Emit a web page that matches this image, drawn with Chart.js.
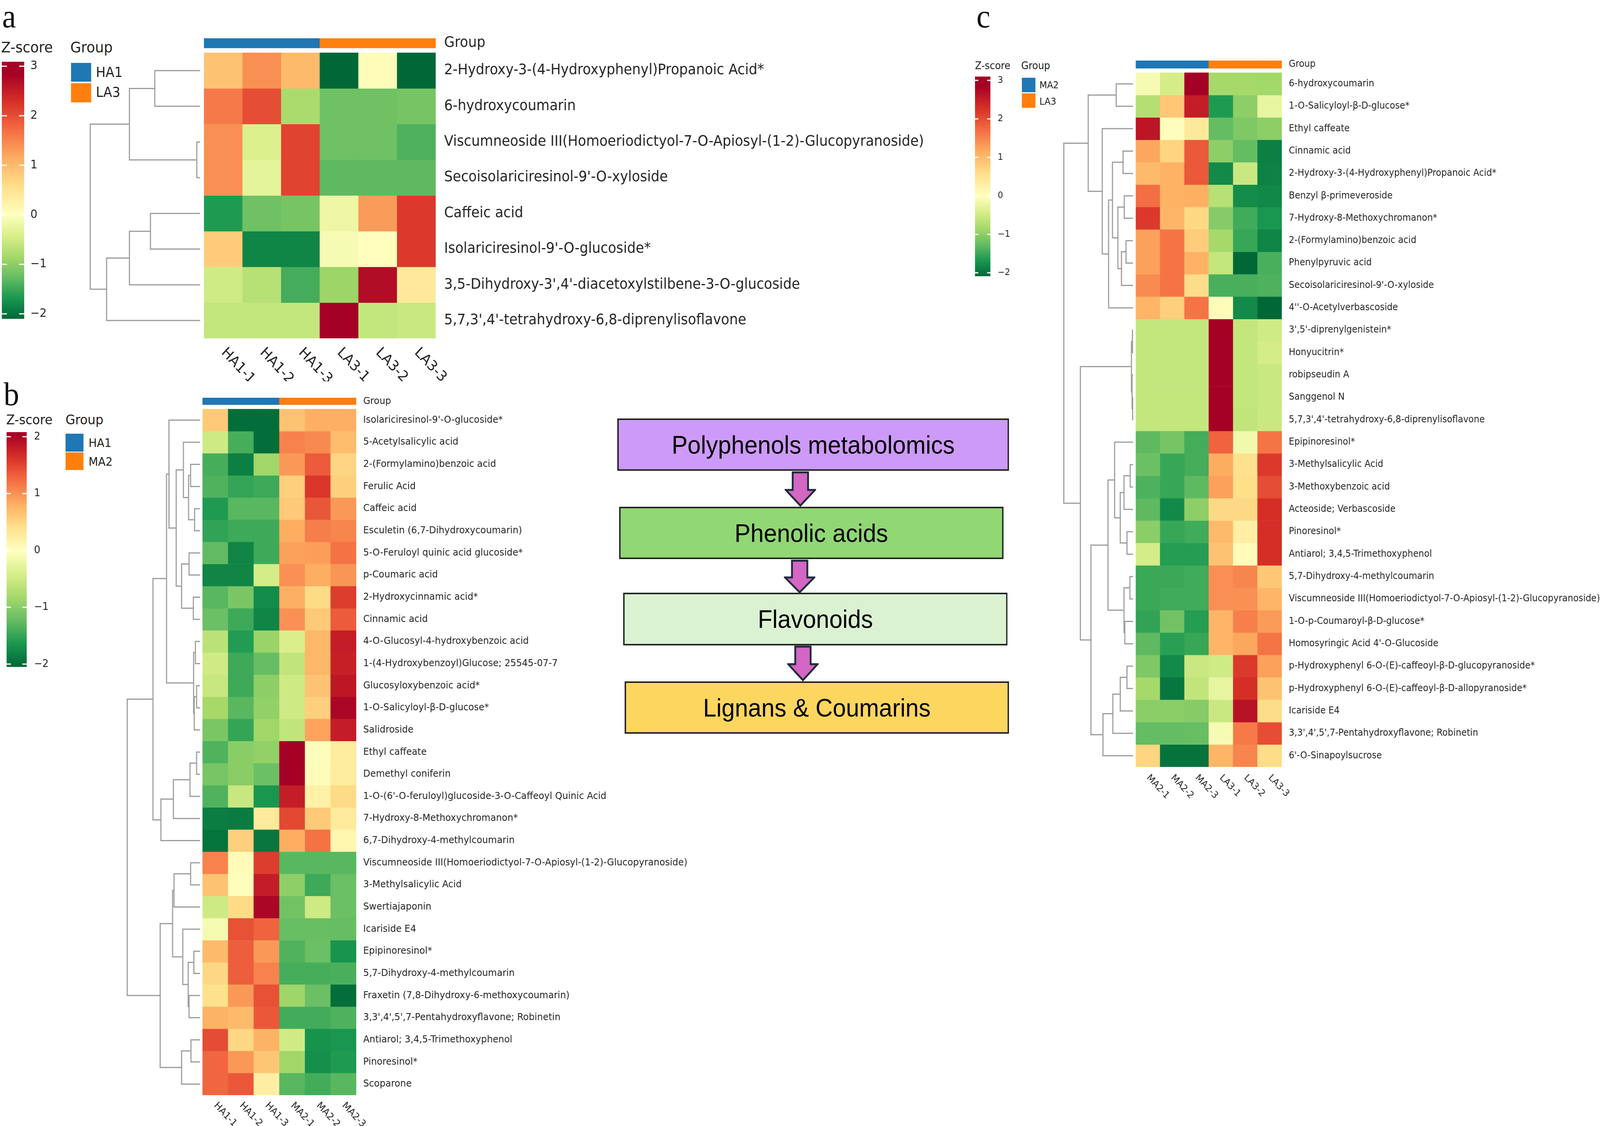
<!DOCTYPE html>
<html>
<head>
<meta charset="utf-8">
<script src="https://cdn.jsdelivr.net/npm/chart.js@4.4.1/dist/chart.umd.min.js"></script>
<style>
  html, body { margin: 0; padding: 0; width: 100%; height: 100%; overflow: hidden; background: #fff; }
  #root { position: absolute; left: 0; top: 0; width: 4370px; height: 2882px; background: #fff; transform-origin: 0 0; overflow: hidden; }
  .box { position: absolute; }
  .t { position: absolute; font-family: 'DejaVu Sans', sans-serif; line-height: 1; white-space: nowrap; color: #222; }
  .letter { position: absolute; font-family: 'Liberation Serif', 'DejaVu Serif', serif; font-size: 85px; line-height: 85px; color: #111; }
  .sw { position: absolute; }
  .flow { position: absolute; box-sizing: border-box; border: 4px solid #262626; display: flex; align-items: center; justify-content: center;
          font-family: 'Liberation Sans', Arial, sans-serif; font-size: 65px; color: #000; }
  .arrow { position: absolute; }
</style>
</head>
<body>
<div id="root">

<div class="letter" style="left:6px; top:-1px;">a</div>
<div class="letter" style="left:10px; top:966px;">b</div>
<div class="letter" style="left:2667px; top:-1px;">c</div>

<!-- legend a -->
<div class="t" style="left:3px; top:102px; font-size:38px;">Z-score</div>
<div class="t" style="left:192px; top:102px; font-size:38px;">Group</div>
<div class="sw" style="left:194px; top:161px; width:55px; height:48px; background:#1f77b4;"></div>
<div class="sw" style="left:194px; top:213px; width:55px; height:49px; background:#ff7f0e;"></div>
<div class="t" style="left:262px; top:168px; font-size:35px;">HA1</div>
<div class="t" style="left:262px; top:219px; font-size:35px;">LA3</div>

<!-- legend b -->
<div class="t" style="left:17px; top:1057px; font-size:34px;">Z-score</div>
<div class="t" style="left:179px; top:1057px; font-size:34px;">Group</div>
<div class="sw" style="left:179px; top:1110px; width:49px; height:46px; background:#1f77b4;"></div>
<div class="sw" style="left:179px; top:1158px; width:49px; height:45px; background:#ff7f0e;"></div>
<div class="t" style="left:242px; top:1119px; font-size:30px;">HA1</div>
<div class="t" style="left:242px; top:1167px; font-size:30px;">MA2</div>

<!-- legend c -->
<div class="t" style="left:2663px; top:155px; font-size:26px;">Z-score</div>
<div class="t" style="left:2789px; top:155px; font-size:26px;">Group</div>
<div class="sw" style="left:2791px; top:199px; width:37px; height:37px; background:#1f77b4;"></div>
<div class="sw" style="left:2791px; top:239px; width:37px; height:37px; background:#ff7f0e;"></div>
<div class="t" style="left:2839px; top:206px; font-size:24px;">MA2</div>
<div class="t" style="left:2839px; top:248px; font-size:24px;">LA3</div>

<!-- colour bars -->
<div class="box" style="left:5px; top:128px; width:131px; height:718px;"><canvas id="barA"></canvas></div>
<div class="box" style="left:18px; top:1076px; width:125px; height:661px;"><canvas id="barB"></canvas></div>
<div class="box" style="left:2663px; top:166px; width:102px; height:571px;"><canvas id="barC"></canvas></div>

<!-- dendrograms -->
<div class="box" style="left:245px; top:58px; width:303px; height:918px;"><canvas id="treeA"></canvas></div>
<div class="box" style="left:346px; top:978px; width:202px; height:1904px;"><canvas id="treeB"></canvas></div>
<div class="box" style="left:2904px; top:115px; width:192px; height:1948px;"><canvas id="treeC"></canvas></div>

<!-- heatmaps -->
<div class="box" style="left:557px; top:58px; width:2040px; height:918px;"><canvas id="heatA"></canvas></div>
<div class="box" style="left:553px; top:978px; width:1400px; height:1904px;"><canvas id="heatB"></canvas></div>
<div class="box" style="left:3102px; top:115px; width:1268px; height:1948px;"><canvas id="heatC"></canvas></div>

<!-- flow chart -->
<div class="flow" style="left:1686px; top:1071px; width:1070px; height:134px; background:#cd9af9;">Polyphenols metabolomics</div>
<div class="flow" style="left:1691px; top:1297px; width:1050px; height:134px; background:#91d774;">Phenolic acids</div>
<div class="flow" style="left:1702px; top:1517px; width:1050px; height:135px; background:#daf2d2;">Flavonoids</div>
<div class="flow" style="left:1706px; top:1744px; width:1050px; height:134px; background:#fdd65f;">Lignans &amp; Coumarins</div>
<svg class="arrow" style="left:2143px; top:1206px;" width="86" height="91"><polygon points="22,3 64,3 64,48 83,48 43,88 3,48 22,48" fill="#d466c4" stroke="#1e2b3c" stroke-width="5" stroke-linejoin="miter"/></svg>
<svg class="arrow" style="left:2141px; top:1432px;" width="86" height="87"><polygon points="22,3 64,3 64,46 83,46 43,84 3,46 22,46" fill="#d466c4" stroke="#1e2b3c" stroke-width="5" stroke-linejoin="miter"/></svg>
<svg class="arrow" style="left:2150px; top:1652px;" width="86" height="92"><polygon points="22,3 64,3 64,48 83,48 43,89 3,48 22,48" fill="#d466c4" stroke="#1e2b3c" stroke-width="5" stroke-linejoin="miter"/></svg>

</div>

<script>
// ---------- panel a : HA1 vs LA3 ----------
const aCols = ['HA1-1', 'HA1-2', 'HA1-3', 'LA3-1', 'LA3-2', 'LA3-3'];
const aGroups = ['HA1', 'HA1', 'HA1', 'LA3', 'LA3', 'LA3'];
const aLegend = ['HA1', 'LA3'];
const aRows = [
  '2-Hydroxy-3-(4-Hydroxyphenyl)Propanoic Acid*',
  '6-hydroxycoumarin',
  'Viscumneoside III(Homoeriodictyol-7-O-Apiosyl-(1-2)-Glucopyranoside)',
  'Secoisolariciresinol-9\'-O-xyloside',
  'Caffeic acid',
  'Isolariciresinol-9\'-O-glucoside*',
  '3,5-Dihydroxy-3\',4\'-diacetoxylstilbene-3-O-glucoside',
  '5,7,3\',4\'-tetrahydroxy-6,8-diprenylisoflavone'
];
const aValues = [
  [0.9, 1.4, 1.0, -2.1, 0.05, -2.1],
  [1.6, 2.0, -0.8, -1.2, -1.2, -1.15],
  [1.4, -0.4, 2.1, -1.2, -1.2, -1.4],
  [1.4, -0.3, 2.1, -1.3, -1.3, -1.3],
  [-1.65, -1.2, -1.15, -0.2, 1.3, 2.2],
  [0.8, -1.85, -1.85, -0.1, 0.02, 2.2],
  [-0.5, -0.7, -1.45, -0.9, 2.7, 0.4],
  [-0.6, -0.6, -0.6, 3.0, -0.6, -0.55]
];
// [left, right, height]; leaves are row indexes
const aTree = [[[0, 1, 125], [2, 3, 9], 195], [[[4, 5, 137], 6, 195], 7, 258], 303];
const aTicks = [3, 2, 1, 0, -1, -2];

// ---------- panel b : HA1 vs MA2 ----------
const bCols = ['HA1-1', 'HA1-2', 'HA1-3', 'MA2-1', 'MA2-2', 'MA2-3'];
const bGroups = ['HA1', 'HA1', 'HA1', 'MA2', 'MA2', 'MA2'];
const bLegend = ['HA1', 'MA2'];
const bRows = [
  'Isolariciresinol-9\'-O-glucoside*',
  '5-Acetylsalicylic acid',
  '2-(Formylamino)benzoic acid',
  'Ferulic Acid',
  'Caffeic acid',
  'Esculetin (6,7-Dihydroxycoumarin)',
  '5-O-Feruloyl quinic acid glucoside*',
  'p-Coumaric acid',
  '2-Hydroxycinnamic acid*',
  'Cinnamic acid',
  '4-O-Glucosyl-4-hydroxybenzoic acid',
  '1-(4-Hydroxybenzoyl)Glucose; 25545-07-7',
  'Glucosyloxybenzoic acid*',
  '1-O-Salicyloyl-β-D-glucose*',
  'Salidroside',
  'Ethyl caffeate',
  'Demethyl coniferin',
  '1-O-(6\'-O-feruloyl)glucoside-3-O-Caffeoyl Quinic Acid',
  '7-Hydroxy-8-Methoxychromanon*',
  '6,7-Dihydroxy-4-methylcoumarin',
  'Viscumneoside III(Homoeriodictyol-7-O-Apiosyl-(1-2)-Glucopyranoside)',
  '3-Methylsalicylic Acid',
  'Swertiajaponin',
  'Icariside E4',
  'Epipinoresinol*',
  '5,7-Dihydroxy-4-methylcoumarin',
  'Fraxetin (7,8-Dihydroxy-6-methoxycoumarin)',
  '3,3\',4\',5\',7-Pentahydroxyflavone; Robinetin',
  'Antiarol; 3,4,5-Trimethoxyphenol',
  'Pinoresinol*',
  'Scoparone'
];
const bValues = [
  [0.6, -2.0, -2.0, 0.65, 0.8, 0.8],
  [-0.5, -1.4, -2.0, 1.1, 1.05, 0.7],
  [-1.4, -1.85, -0.85, 0.95, 1.35, 0.5],
  [-1.35, -1.5, -1.45, 0.55, 1.6, 0.55],
  [-1.62, -1.3, -1.3, 0.6, 1.38, 0.95],
  [-1.52, -1.45, -1.45, 0.82, 1.12, 1.08],
  [-1.25, -1.8, -1.45, 0.9, 0.92, 1.2],
  [-1.8, -1.8, -0.45, 1.0, 0.82, 0.98],
  [-1.3, -1.1, -1.75, 0.8, 0.45, 1.55],
  [-1.2, -1.45, -1.8, 1.0, 0.6, 1.35],
  [-0.65, -1.6, -0.9, -0.4, 0.75, 1.8],
  [-0.48, -1.45, -1.23, -0.6, 0.75, 1.78],
  [-0.55, -1.45, -0.98, -0.5, 0.65, 1.85],
  [-0.82, -1.3, -0.95, -0.5, 0.55, 2.0],
  [-1.1, -1.5, -0.85, -0.6, 0.88, 1.8],
  [-1.35, -1.0, -0.95, 2.05, 0.02, 0.25],
  [-1.12, -1.0, -1.2, 2.05, 0.05, 0.25],
  [-1.35, -0.55, -1.65, 1.8, 0.18, 0.45],
  [-1.87, -1.88, 0.28, 1.48, 0.6, 0.28],
  [-1.95, 0.55, -1.93, 0.82, 1.2, 0.12],
  [1.1, 0.05, 1.55, -1.3, -1.3, -1.3],
  [0.65, 0.03, 1.8, -0.97, -1.45, -1.2],
  [-0.5, 0.45, 2.0, -1.15, -0.5, -1.2],
  [-0.12, 1.42, 1.3, -1.22, -1.22, -1.23],
  [0.72, 1.33, 0.95, -1.35, -1.2, -1.67],
  [0.48, 1.33, 1.1, -1.4, -1.4, -1.38],
  [0.4, 0.95, 1.42, -0.87, -1.2, -2.0],
  [0.78, 0.72, 1.37, -1.42, -1.42, -1.36],
  [1.45, 0.48, 0.78, -0.48, -1.68, -1.66],
  [1.28, 0.96, 0.62, -0.85, -1.72, -1.62],
  [1.28, 1.37, 0.22, -1.3, -1.42, -1.3]
];
const bTree = [
  [
    [
      [0, [[1, [[2, 3, 26.3], [4, 5, 15.3], 32], 46.3], [[6, 7, 30.7], [8, 9, 18.7], 51.3], 66.3], 86.3],
      [[10, 11, 13], [[12, 13, 9.7], 14, 16.3], 18],
      93],
    [[[[15, 16, 9.7], 17, 28], 18, 74], 19, 108.7],
    130.7],
  [
    [[[20, 21, 26.3], 22, 72.3], [23, [[24, 25, 17.3], [26, 27, 30.7], 33], 48], 76.3],
    [[28, 29, 25.3], 30, 51.3],
    110.7],
  202];
const bTicks = [2, 1, 0, -1, -2];

// ---------- panel c : MA2 vs LA3 ----------
const cCols = ['MA2-1', 'MA2-2', 'MA2-3', 'LA3-1', 'LA3-2', 'LA3-3'];
const cGroups = ['MA2', 'MA2', 'MA2', 'LA3', 'LA3', 'LA3'];
const cLegend = ['MA2', 'LA3'];
const cRows = [
  '6-hydroxycoumarin',
  '1-O-Salicyloyl-β-D-glucose*',
  'Ethyl caffeate',
  'Cinnamic acid',
  '2-Hydroxy-3-(4-Hydroxyphenyl)Propanoic Acid*',
  'Benzyl β-primeveroside',
  '7-Hydroxy-8-Methoxychromanon*',
  '2-(Formylamino)benzoic acid',
  'Phenylpyruvic acid',
  'Secoisolariciresinol-9\'-O-xyloside',
  '4\'\'-O-Acetylverbascoside',
  '3\',5\'-diprenylgenistein*',
  'Honyucitrin*',
  'robipseudin A',
  'Sanggenol N',
  '5,7,3\',4\'-tetrahydroxy-6,8-diprenylisoflavone',
  'Epipinoresinol*',
  '3-Methylsalicylic Acid',
  '3-Methoxybenzoic acid',
  'Acteoside; Verbascoside',
  'Pinoresinol*',
  'Antiarol; 3,4,5-Trimethoxyphenol',
  '5,7-Dihydroxy-4-methylcoumarin',
  'Viscumneoside III(Homoeriodictyol-7-O-Apiosyl-(1-2)-Glucopyranoside)',
  '1-O-p-Coumaroyl-β-D-glucose*',
  'Homosyringic Acid 4\'-O-Glucoside',
  'p-Hydroxyphenyl 6-O-(E)-caffeoyl-β-D-glucopyranoside*',
  'p-Hydroxyphenyl 6-O-(E)-caffeoyl-β-D-allopyranoside*',
  'Icariside E4',
  '3,3\',4\',5\',7-Pentahydroxyflavone; Robinetin',
  '6\'-O-Sinapoylsucrose'
];
const cValues = [
  [-0.1, -0.45, 3.0, -0.84, -0.84, -0.86],
  [-0.72, 0.85, 2.5, -1.65, -1.0, -0.25],
  [2.6, 0.03, 0.4, -1.27, -1.1, -1.0],
  [1.2, 0.7, 1.9, -1.0, -1.27, -1.9],
  [1.0, 1.1, 1.9, -1.8, -0.55, -1.88],
  [1.7, 1.1, 1.12, -0.7, -1.78, -1.82],
  [2.2, 1.05, 0.65, -1.05, -1.47, -1.7],
  [1.25, 1.65, 0.8, -0.84, -1.52, -1.85],
  [1.25, 1.65, 1.1, -0.6, -2.1, -1.42],
  [1.45, 1.65, 0.6, -1.42, -1.42, -1.4],
  [1.05, 0.75, 1.65, 0.05, -1.8, -2.1],
  [-0.6, -0.6, -0.6, 3.0, -0.6, -0.5],
  [-0.6, -0.6, -0.6, 3.0, -0.6, -0.45],
  [-0.6, -0.6, -0.6, 3.0, -0.6, -0.55],
  [-0.6, -0.6, -0.6, 3.0, -0.6, -0.55],
  [-0.6, -0.6, -0.6, 3.0, -0.62, -0.55],
  [-1.3, -1.15, -1.45, 1.8, -0.15, 1.65],
  [-1.22, -1.52, -1.45, 1.15, 0.55, 2.2],
  [-1.4, -1.52, -1.3, 1.25, 0.58, 2.0],
  [-1.3, -1.8, -1.0, 0.65, 0.65, 2.3],
  [-1.02, -1.52, -1.47, 1.0, 0.3, 2.3],
  [-0.45, -1.62, -1.62, 0.9, 0.05, 2.3],
  [-1.5, -1.5, -1.47, 1.4, 1.5, 0.85],
  [-1.5, -1.47, -1.47, 1.4, 1.4, 1.05],
  [-1.55, -1.18, -1.62, 1.05, 1.55, 1.3],
  [-1.3, -1.6, -1.52, 1.05, 1.2, 1.65],
  [-1.1, -1.8, -0.55, -0.5, 2.2, 1.25],
  [-0.84, -1.97, -0.62, -0.25, 2.3, 0.9],
  [-1.02, -1.02, -1.05, -0.55, 2.65, 0.6],
  [-1.27, -1.27, -1.25, -0.1, 1.6, 2.0],
  [0.7, -2.0, -2.0, 1.05, 1.5, 0.6]
];
const cTree = [
  [[0, 1, 46.7], [2, [[[3, 4, 27.7], [[5, 6, 24.3], [[7, 8, 19.3], 9, 32], 42], 57], 10, 67.7], 85.3], 124.3],
  [
    [[11, 12, 1.5], [13, [14, 15, 1], 2.5], 4.3],
    [
      [[16, [[[17, 18, 7.7], 19, 25], [20, 21, 16.7], 35.3], 51], [[22, 23, 8.7], [24, 25, 22.7], 25], 69.3],
      [[[[26, 27, 16.7], 28, 35.3], 29, 56], 30, 83.3],
      116.7],
    146],
  192];
const cTicks = [3, 2, 1, 0, -1, -2];

// the layout is drawn on a 4370 x 2882 sheet and stretched to fill the window
const sx = window.innerWidth / 4370, sy = window.innerHeight / 2882;
document.getElementById('root').style.transform = 'scale(' + sx + ',' + sy + ')';

// ---------- shared styling ----------
const groupColors = ['#1f77b4', '#ff7f0e'];
// RdYlGn, low -> high
const palette = ['#006837', '#1a9850', '#66bd63', '#a6d96a', '#d9ef8b', '#ffffbf',
                 '#fee08b', '#fdae61', '#f46d43', '#d73027', '#a50026'];
const paletteRgb = palette.map(h => [1, 3, 5].map(i => parseInt(h.substr(i, 2), 16)));

function zColor(v, lo, hi) {
  let p = v < 0 ? 5 - 5 * Math.min(v / lo, 1) : 5 + 5 * Math.min(v / hi, 1);
  const k = Math.min(Math.floor(p), 9);
  const t = p - k;
  const a = paletteRgb[k], b = paletteRgb[k + 1];
  const c = a.map((x, i) => Math.round(x + (b[i] - x) * t));
  return 'rgb(' + c.join(',') + ')';
}

Chart.defaults.animation = false;
Chart.defaults.events = [];
Chart.defaults.font.family = "'DejaVu Sans', sans-serif";
Chart.defaults.plugins.legend.display = false;
Chart.defaults.plugins.tooltip.enabled = false;

// sample names under the heatmap, rotated downwards
const colLabels = {
  id: 'colLabels',
  afterDraw(chart, args, o) {
    const { ctx, chartArea, scales: { x } } = chart;
    ctx.save();
    ctx.font = o.size + "px 'DejaVu Sans'";
    ctx.fillStyle = '#222';
    ctx.textAlign = 'left';
    ctx.textBaseline = 'middle';
    o.labels.forEach((lab, j) => {
      ctx.save();
      ctx.translate(x.getPixelForValue(j), chartArea.bottom + o.gap);
      ctx.rotate(o.angle * Math.PI / 180);
      ctx.fillText(lab, 0, 0);
      ctx.restore();
    });
    ctx.restore();
  }
};

// small white marks on the colour bar at each tick
const tickDashes = {
  id: 'tickDashes',
  afterDatasetsDraw(chart, args, o) {
    const { ctx, chartArea: { left, right }, scales: { y } } = chart;
    ctx.save();
    ctx.strokeStyle = '#fff';
    ctx.lineWidth = o.width;
    y.ticks.forEach(t => {
      const py = y.getPixelForValue(t.value);
      ctx.beginPath();
      ctx.moveTo(left, py); ctx.lineTo(left + o.len, py);
      ctx.moveTo(right - o.len, py); ctx.lineTo(right, py);
      ctx.stroke();
    });
    ctx.restore();
  }
};

function heatmap(id, rows, cols, values, groups, legend, p) {
  const datasets = values.map((row, i) => ({
    label: rows[i],
    data: cols.map(() => [i, i + 1]),
    backgroundColor: row.map(v => zColor(v, p.lo, p.hi))
  }));
  datasets.push({
    label: 'Group',
    data: cols.map(() => p.strip),
    backgroundColor: groups.map(g => groupColors[legend.indexOf(g)])
  });
  return new Chart(document.getElementById(id), {
    type: 'bar',
    data: { labels: cols, datasets: datasets },
    options: {
      responsive: true,
      maintainAspectRatio: false,
      layout: { padding: { top: p.padTop, bottom: p.padBottom, left: 0, right: 0 } },
      datasets: { bar: { grouped: false, barPercentage: 1, categoryPercentage: 1, borderWidth: 0 } },
      scales: {
        x: { display: false },
        y: {
          type: 'linear', reverse: true, bounds: 'data',
          min: p.strip[0], max: rows.length,
          position: 'right',
          grid: { display: false },
          border: { display: false },
          afterBuildTicks: s => {
            s.ticks = [{ value: (p.strip[0] + p.strip[1]) / 2 }].concat(rows.map((r, i) => ({ value: i + 0.5 })));
          },
          afterFit: s => { s.width = p.axisWidth; },
          ticks: {
            autoSkip: false, padding: p.tickPad, color: '#222', font: { size: p.font },
            callback: (v, i) => i === 0 ? 'Group' : rows[i - 1]
          }
        }
      },
      plugins: { colLabels: { labels: cols, size: p.font, gap: p.colGap, angle: 45 } }
    },
    plugins: [colLabels]
  });
}

function treeSegments(node, pts) {
  if (typeof node === 'number') return { y: node + 0.5, h: 0 };
  const a = treeSegments(node[0], pts);
  const b = treeSegments(node[1], pts);
  const h = node[2];
  pts.push({ x: a.h, y: a.y }, { x: h, y: a.y }, { x: h, y: b.y }, { x: b.h, y: b.y }, { x: NaN, y: NaN });
  return { y: (a.y + b.y) / 2, h: h };
}

function dendrogram(id, tree, nRows, p) {
  const pts = [];
  treeSegments(tree, pts);
  return new Chart(document.getElementById(id), {
    type: 'scatter',
    data: {
      datasets: [{
        data: pts, showLine: true, spanGaps: false, clip: false,
        borderColor: '#9b9b9b', borderWidth: 3, borderJoinStyle: 'miter',
        pointRadius: 0
      }]
    },
    options: {
      responsive: true,
      maintainAspectRatio: false,
      layout: { padding: { top: p.padTop, bottom: p.padBottom, left: 0, right: 0 } },
      scales: {
        x: { type: 'linear', display: false, reverse: true, bounds: 'data', min: 0, max: tree[2] },
        y: { type: 'linear', display: false, reverse: true, bounds: 'data', min: p.strip[0], max: nRows }
      }
    }
  });
}

function colorbar(id, ticks, p) {
  return new Chart(document.getElementById(id), {
    type: 'bar',
    data: {
      labels: ['Z-score'],
      datasets: [{
        data: [[p.barMin, p.barMax]],
        barPercentage: 1, categoryPercentage: 1, borderWidth: 0,
        backgroundColor: c => {
          const ch = c.chart;
          if (!ch.chartArea) return 'transparent';
          const y = ch.scales.y;
          const g = ch.ctx.createLinearGradient(0, y.getPixelForValue(p.barMax), 0, y.getPixelForValue(p.barMin));
          for (let k = 0; k <= 80; k++) {
            const v = p.barMax + (p.barMin - p.barMax) * k / 80;
            g.addColorStop(k / 80, zColor(v, p.lo, p.hi));
          }
          return g;
        }
      }]
    },
    options: {
      responsive: true,
      maintainAspectRatio: false,
      layout: { padding: { top: p.padTop, bottom: p.padBottom, left: 0, right: 0 } },
      scales: {
        x: { display: false },
        y: {
          type: 'linear', bounds: 'data', min: p.barMin, max: p.barMax, position: 'right',
          grid: { display: false },
          border: { display: false },
          afterBuildTicks: s => { s.ticks = ticks.map(v => ({ value: v })); },
          afterFit: s => { s.width = p.axisWidth; },
          ticks: {
            padding: p.tickPad, color: '#222', font: { size: p.font },
            callback: v => String(v).replace('-', '\u2212')
          }
        }
      },
      plugins: { tickDashes: { len: p.dash, width: 3 } }
    },
    plugins: [tickDashes]
  });
}

// panel a
const layoutA = { strip: [-0.405, -0.131], padTop: 40, padBottom: 110 };
heatmap('heatA', aRows, aCols, aValues, aGroups, aLegend,
  Object.assign({ lo: -2.1, hi: 2.85, axisWidth: 1407, font: 37, tickPad: 15, colGap: 31 }, layoutA));
dendrogram('treeA', aTree, aRows.length, layoutA);
colorbar('barA', aTicks, { barMin: -2.1, barMax: 3.09, lo: -2.1, hi: 2.85, padTop: 30, padBottom: 30,
  axisWidth: 70, font: 30, tickPad: 9, dash: 14 });

// panel b
const layoutB = { strip: [-0.512, -0.194], padTop: 40, padBottom: 79 };
heatmap('heatB', bRows, bCols, bValues, bGroups, bLegend,
  Object.assign({ lo: -2.05, hi: 2.05, axisWidth: 980, font: 25, tickPad: 11, colGap: 23 }, layoutB));
dendrogram('treeB', bTree, bRows.length, layoutB);
colorbar('barB', bTicks, { barMin: -2.05, barMax: 2.08, lo: -2.05, hi: 2.05, padTop: 30, padBottom: 30,
  axisWidth: 70, font: 27, tickPad: 12, dash: 12 });

// panel c
const layoutC = { strip: [-0.541, -0.192], padTop: 40, padBottom: 100 };
heatmap('heatC', cRows, cCols, cValues, cGroups, cLegend,
  Object.assign({ lo: -2.1, hi: 2.85, axisWidth: 869, font: 24, tickPad: 11, colGap: 24 }, layoutC));
dendrogram('treeC', cTree, cRows.length, layoutC);
colorbar('barC', cTicks, { barMin: -2.09, barMax: 3.1, lo: -2.1, hi: 2.85, padTop: 30, padBottom: 30,
  axisWidth: 60, font: 23, tickPad: 12, dash: 9 });
</script>
</body>
</html>
